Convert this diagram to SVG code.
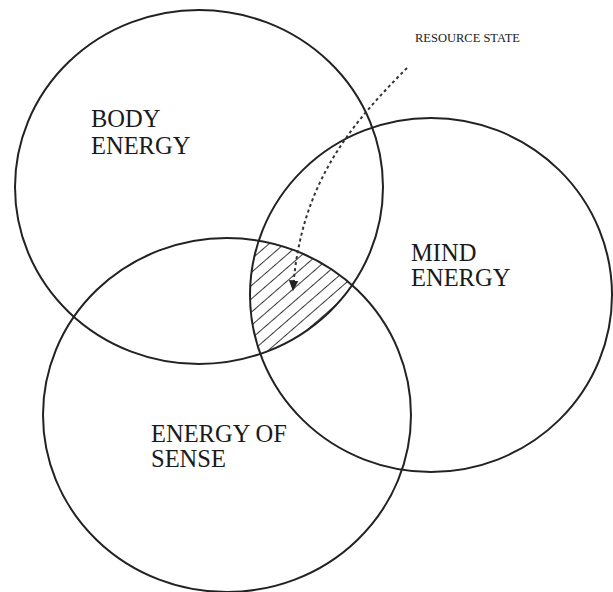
<svg xmlns="http://www.w3.org/2000/svg" width="613" height="592" viewBox="0 0 613 592">
  <style>
    .ring { fill: none; stroke: #222; stroke-width: 2; }
    .label { font-family: "Liberation Serif", "Times New Roman", serif; font-size: 24.5px; fill: #1a1a1a; }
    .small { font-family: "Liberation Serif", "Times New Roman", serif; font-size: 12.5px; fill: #1a1a1a; }
    .flow { fill: none; stroke: #333; stroke-width: 2; stroke-dasharray: 3 3; }
  </style>
  <defs>
    <pattern id="hatch" width="10" height="10" patternUnits="userSpaceOnUse" patternTransform="rotate(49)">
      <line x1="0" y1="0" x2="0" y2="10" stroke="#222" stroke-width="1.8"/>
    </pattern>
    <clipPath id="clipBody"><ellipse cx="199" cy="187" rx="184" ry="177"/></clipPath>
    <clipPath id="clipMind"><ellipse cx="431" cy="295" rx="181" ry="177"/></clipPath>
    <clipPath id="clipSense"><ellipse cx="227" cy="415" rx="184" ry="177"/></clipPath>
    <marker id="arrow" viewBox="0 0 10 10" refX="8" refY="5" markerWidth="6" markerHeight="6" orient="auto">
      <path d="M0,1 L9,5 L0,9 Z" fill="#222"/>
    </marker>
  </defs>
  <rect width="613" height="592" fill="#fff"/>

  <!-- shared region of all three energies -->
  <g id="overlap" clip-path="url(#clipBody)">
    <g clip-path="url(#clipMind)">
      <rect x="0" y="0" width="613" height="592" fill="url(#hatch)" clip-path="url(#clipSense)"/>
    </g>
  </g>

  <g id="body">
    <ellipse class="ring" cx="199" cy="187" rx="184" ry="177"/>
    <text class="label" x="91" y="127">BODY</text>
    <text class="label" x="91" y="154">ENERGY</text>
  </g>
  <g id="mind">
    <ellipse class="ring" cx="431" cy="295" rx="181" ry="177"/>
    <text class="label" x="411" y="261">MIND</text>
    <text class="label" x="411" y="286">ENERGY</text>
  </g>
  <g id="sense">
    <ellipse class="ring" cx="227" cy="415" rx="184" ry="177"/>
    <text class="label" x="151" y="442">ENERGY OF</text>
    <text class="label" x="151" y="467">SENSE</text>
  </g>
  <g id="resource">
    <text class="small" x="415" y="42">RESOURCE STATE</text>
  </g>

  <g id="connectors">
    <path class="flow" d="M407,68 C350,125 300,185 293,290" marker-end="url(#arrow)"/>
  </g>
</svg>
